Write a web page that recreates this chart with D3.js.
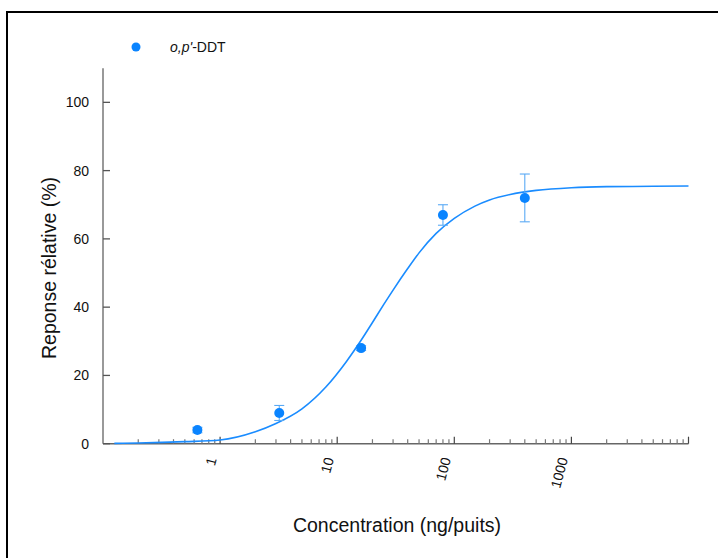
<!DOCTYPE html>
<html>
<head>
<meta charset="utf-8">
<script src="https://cdn.jsdelivr.net/npm/d3@7"></script>
<style>
  html, body { margin: 0; padding: 0; background: #fff; }
  svg { display: block; font-family: "Liberation Sans", Arial, sans-serif; }
</style>
</head>
<body>
<svg id="chart" width="718" height="558"></svg>
<script>
// ---- data ----
const concentrations = [0.64, 3.2, 16, 80, 400];          // ng/puits
const responses      = [4.0, 9.0, 28.0, 67.0, 72.0];        // %
const errors         = [0.8, 2.2, 0.7, 3.0, 7.0];           // ± %
// fitted curve, sampled as read from the picture
const curveConc  = [0.125, 0.2, 0.5, 1, 2, 3, 5, 8, 12, 16, 20, 25, 30, 40, 50, 70, 100, 150, 200, 300, 500, 1000, 2000, 5000, 10000];
const curveResp  = [0.1, 0.2, 0.6, 1.1, 3.5, 5.9, 10.2, 16.6, 24.1, 30.3, 35.5, 40.8, 45.0, 51.3, 55.9, 61.6, 66.0, 69.6, 71.4, 73.0, 74.2, 75.0, 75.3, 75.4, 75.5];
const xMajorTicks = [1, 10, 100, 1000];
const xTickLabels = ["1", "10", "100", "1000"];
const yTicks      = [0, 20, 40, 60, 80, 100];
const seriesName  = { italic: "o,p'", plain: "-DDT" };
const xTitle = "Concentration (ng/puits)";
const yTitle = "Reponse rélative (%)";

// ---- layout ----
const svg = d3.select("#chart");
const blue = "#0a84ff";

// frame
svg.append("path")
  .attr("d", "M7,560 L7,12 L720,12")
  .attr("fill", "none").attr("stroke", "#000").attr("stroke-width", 2);

const x = d3.scaleLog().domain([0.1, 10000]).range([103, 688.5]);
const y = d3.scaleLinear().domain([0, 110]).range([443.7, 68.2]);

// X axis
const xAll = x.ticks().filter(v => v > 0.1 * 1.0001);
const lastTick = xAll[xAll.length - 1];
const gx = svg.append("g").attr("transform", `translate(0,${y(0)})`);
gx.append("line").attr("x1", x.range()[0]).attr("x2", x.range()[1])
  .attr("stroke", "#666").attr("stroke-width", 1.5);
gx.selectAll("line.tick").data(xAll).join("line")
  .attr("class", "tick")
  .attr("x1", d => x(d)).attr("x2", d => x(d))
  .attr("y1", 0)
  .attr("y2", d => xMajorTicks.includes(d) || d === lastTick ? -7 : -4.5)
  .attr("stroke", d => xMajorTicks.includes(d) || d === lastTick ? "#444" : "#777")
  .attr("stroke-width", 1.2);
gx.selectAll("text").data(xMajorTicks).join("text")
  .attr("transform", d => `translate(${x(d) - 8},${14}) rotate(-75)`)
  .attr("text-anchor", "end")
  .attr("dy", "0.35em")
  .attr("font-size", 14)
  .attr("fill", "#111")
  .text((d, i) => xTickLabels[i]);

// Y axis
const gy = svg.append("g").attr("transform", `translate(${x.range()[0]},0)`);
gy.append("line").attr("y1", y(0)).attr("y2", y.range()[1])
  .attr("stroke", "#999").attr("stroke-width", 2);
gy.selectAll("line.tick").data(yTicks).join("line")
  .attr("class", "tick")
  .attr("x1", 0).attr("x2", 7)
  .attr("y1", d => y(d)).attr("y2", d => y(d))
  .attr("stroke", "#555").attr("stroke-width", 1.3);
gy.selectAll("text").data(yTicks).join("text")
  .attr("x", -14).attr("y", d => y(d))
  .attr("dy", "0.35em")
  .attr("text-anchor", "end")
  .attr("font-size", 14)
  .attr("fill", "#111")
  .text(d => d);

// titles
svg.append("text")
  .attr("transform", `translate(56,268) rotate(-90)`)
  .attr("text-anchor", "middle")
  .attr("font-size", 19.5).attr("fill", "#111")
  .text(yTitle);
svg.append("text")
  .attr("x", 397).attr("y", 532)
  .attr("text-anchor", "middle")
  .attr("font-size", 19.5).attr("fill", "#111")
  .text(xTitle);

// curve
const line = d3.line()
  .x((d, i) => x(curveConc[i]))
  .y((d, i) => y(curveResp[i]))
  .curve(d3.curveMonotoneX);
svg.append("path")
  .attr("d", line(curveConc))
  .attr("fill", "none").attr("stroke", "#1a8cff").attr("stroke-width", 1.6);

// error bars
const eb = svg.append("g").attr("stroke", "#5aaaf5").attr("stroke-width", 1.1);
concentrations.forEach((c, i) => {
  const cx = x(c), top = y(responses[i] + errors[i]), bot = y(responses[i] - errors[i]);
  eb.append("line").attr("x1", cx).attr("x2", cx).attr("y1", top).attr("y2", bot);
  eb.append("line").attr("x1", cx - 5).attr("x2", cx + 5).attr("y1", top).attr("y2", top);
  eb.append("line").attr("x1", cx - 5).attr("x2", cx + 5).attr("y1", bot).attr("y2", bot);
});

// points
svg.append("g").selectAll("circle").data(concentrations).join("circle")
  .attr("cx", d => x(d))
  .attr("cy", (d, i) => y(responses[i]))
  .attr("r", 5)
  .attr("fill", blue);

// legend
svg.append("circle").attr("cx", 136).attr("cy", 47).attr("r", 4.5).attr("fill", blue);
const lt = svg.append("text").attr("x", 170).attr("y", 52).attr("font-size", 14).attr("fill", "#111");
lt.append("tspan").attr("font-style", "italic").text(seriesName.italic);
lt.append("tspan").text(seriesName.plain);
</script>
</body>
</html>
